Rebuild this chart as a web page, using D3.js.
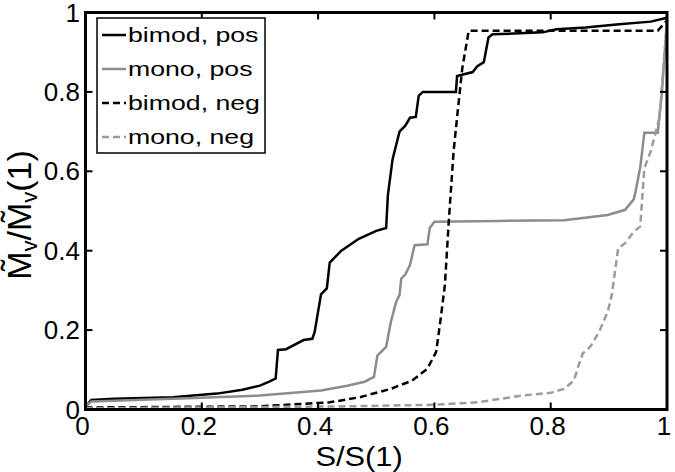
<!DOCTYPE html>
<html>
<head>
<meta charset="utf-8">
<script src="https://cdn.jsdelivr.net/npm/d3@7"></script>
<style>
  body { margin: 0; background: #fff; }
  text { font-family: "Liberation Sans", Arial, sans-serif; fill: #000; }
</style>
</head>
<body>
<svg id="chart"></svg>
<script>
var width = 675,
    height = 472;

// curves, [S/S(1), M/M(1)]
var bimodPos = [[0,0.008],[0.01,0.024],[0.05,0.027],[0.15,0.031],[0.226,0.04],[0.27,0.05],[0.30,0.06],
  [0.316,0.07],[0.327,0.078],[0.331,0.15],[0.345,0.152],[0.375,0.175],[0.39,0.178],[0.394,0.195],
  [0.405,0.29],[0.415,0.305],[0.42,0.37],[0.44,0.40],[0.47,0.43],[0.50,0.45],[0.517,0.457],[0.52,0.54],
  [0.528,0.63],[0.54,0.70],[0.55,0.715],[0.558,0.735],[0.568,0.737],[0.573,0.79],[0.58,0.80],[0.637,0.80],
  [0.639,0.84],[0.666,0.85],[0.674,0.865],[0.685,0.875],[0.693,0.937],[0.70,0.945],[0.786,0.95],
  [0.81,0.958],[0.86,0.962],[0.913,0.97],[0.972,0.977],[1,0.987]];
var monoPos = [[0,0.008],[0.01,0.02],[0.15,0.027],[0.30,0.035],[0.405,0.048],[0.45,0.06],[0.48,0.07],
  [0.496,0.082],[0.502,0.136],[0.517,0.158],[0.525,0.22],[0.534,0.27],[0.54,0.288],[0.543,0.33],
  [0.55,0.34],[0.558,0.364],[0.566,0.414],[0.588,0.416],[0.592,0.457],[0.60,0.473],[0.711,0.475],
  [0.823,0.477],[0.898,0.49],[0.928,0.503],[0.943,0.53],[0.946,0.55],[0.954,0.61],[0.961,0.697],
  [0.984,0.697],[0.991,0.794],[1,0.98]];
var bimodNeg = [[0,0.005],[0.30,0.008],[0.42,0.018],[0.472,0.031],[0.525,0.052],[0.562,0.073],
  [0.588,0.103],[0.603,0.145],[0.61,0.22],[0.618,0.313],[0.625,0.48],[0.633,0.65],[0.64,0.75],
  [0.648,0.86],[0.659,0.954],[0.984,0.954],[1,0.98]];
var monoNeg = [[0,0.003],[0.45,0.008],[0.60,0.012],[0.674,0.018],[0.75,0.035],[0.80,0.042],[0.823,0.052],
  [0.84,0.073],[0.848,0.111],[0.855,0.141],[0.868,0.158],[0.883,0.195],[0.898,0.246],[0.905,0.288],
  [0.916,0.406],[0.928,0.419],[0.943,0.448],[0.954,0.461],[0.961,0.608],[0.972,0.65],[0.987,0.735],
  [1,0.98]];

var seriesNames = ['bimod, pos', 'mono, pos', 'bimod, neg', 'mono, neg'];
var seriesData = [bimodPos, monoPos, bimodNeg, monoNeg];
var seriesColors = ['#000', '#8c8c8c', '#000', '#9c9c9c'];
var seriesDash = [null, null, '7,4', '7,4'];

var tickValues = [0, 0.2, 0.4, 0.6, 0.8, 1];

var x = d3.scaleLinear().domain([0, 1]).range([85.5, 667]);
var y = d3.scaleLinear().domain([0, 1]).range([409.5, 12.5]);

var svg = d3.select('#chart')
    .attr('width', width)
    .attr('height', height);

var line = d3.line()
    .x(d => x(d[0]))
    .y(d => y(d[1]));

// curves
svg.selectAll('.curve')
    .data(seriesData)
    .enter()
    .append('path')
    .attr('class', 'curve')
    .attr('d', line)
    .attr('fill', 'none')
    .attr('stroke', (d, i) => seriesColors[i])
    .attr('stroke-width', 2.5)
    .attr('stroke-dasharray', (d, i) => seriesDash[i]);

// ticks on all four sides, pointing in
var tickLen = 7;
var frame = svg.append('g');
tickValues.forEach(function(t) {
  frame.append('line').attr('x1', x(t)).attr('x2', x(t)).attr('y1', y(0)).attr('y2', y(0) - tickLen);
  frame.append('line').attr('x1', x(t)).attr('x2', x(t)).attr('y1', y(1)).attr('y2', y(1) + tickLen);
  frame.append('line').attr('y1', y(t)).attr('y2', y(t)).attr('x1', x(0)).attr('x2', x(0) + tickLen);
  frame.append('line').attr('y1', y(t)).attr('y2', y(t)).attr('x1', x(1)).attr('x2', x(1) - tickLen);
});
frame.selectAll('line').attr('stroke', '#000').attr('stroke-width', 2);
frame.append('rect')
    .attr('x', x(0)).attr('y', y(1))
    .attr('width', x(1) - x(0)).attr('height', y(0) - y(1))
    .attr('fill', 'none').attr('stroke', '#000').attr('stroke-width', 3);

var fmt = d => d === 0 || d === 1 ? String(d) : d3.format('.1f')(d);

// tick labels
svg.selectAll('.xlab')
    .data(tickValues)
    .enter()
    .append('text')
    .attr('x', d => x(d) - 3)
    .attr('y', 435)
    .attr('text-anchor', 'middle')
    .attr('font-size', 26)
    .text(fmt);

svg.selectAll('.ylab')
    .data(tickValues)
    .enter()
    .append('text')
    .attr('x', 80)
    .attr('y', d => y(d) + 9)
    .attr('text-anchor', 'end')
    .attr('font-size', 26)
    .text(fmt);

// axis titles
svg.append('text')
    .attr('transform', 'translate(359,466) scale(1.1,1)')
    .attr('text-anchor', 'middle')
    .attr('font-size', 28)
    .text('S/S(1)');

var ylab = svg.append('text')
    .attr('transform', 'translate(31,215) rotate(-90)')
    .attr('text-anchor', 'middle')
    .attr('font-size', 34);
ylab.append('tspan').text('M\u0303');
ylab.append('tspan').attr('font-size', 22).attr('dy', 6).text('v');
ylab.append('tspan').attr('dy', -6).text('/M\u0303');
ylab.append('tspan').attr('font-size', 22).attr('dy', 6).text('v');
ylab.append('tspan').attr('dy', -6).text('(1)');

// legend
var legend = svg.append('g');
legend.append('rect')
    .attr('x', 97).attr('y', 18)
    .attr('width', 168).attr('height', 135)
    .attr('fill', '#fff').attr('stroke', '#000').attr('stroke-width', 1.5);

var rows = legend.selectAll('.row')
    .data(seriesNames)
    .enter()
    .append('g')
    .attr('transform', (d, i) => 'translate(0,' + (35 + i * 34) + ')');

rows.append('line')
    .attr('x1', 102).attr('x2', 126)
    .attr('stroke', (d, i) => seriesColors[i])
    .attr('stroke-width', 2.5)
    .attr('stroke-dasharray', (d, i) => seriesDash[i]);

rows.append('text')
    .attr('transform', 'translate(128,7) scale(1.27,1)')
    .attr('font-size', 21)
    .text(d => d);
</script>
</body>
</html>
